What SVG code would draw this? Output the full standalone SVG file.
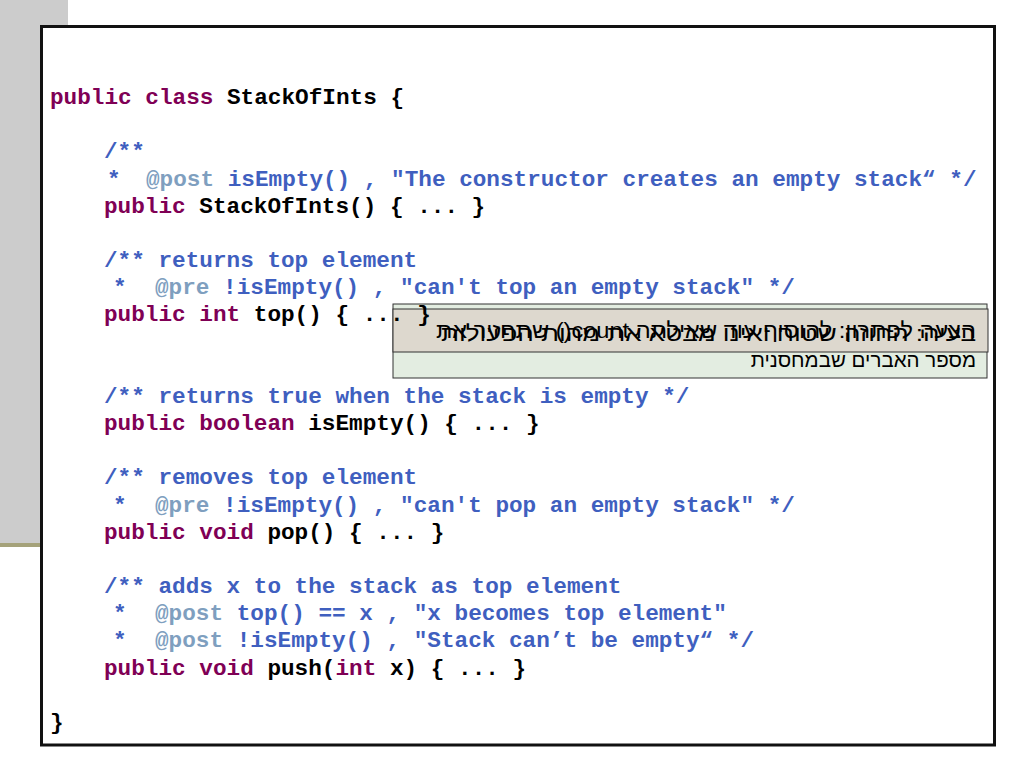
<svg xmlns="http://www.w3.org/2000/svg" width="1024" height="768" viewBox="0 0 1024 768">
<style>
.code{font-family:"Liberation Mono","Courier New",monospace;font-weight:bold;font-size:22.7px}
.kw{fill:#7F0055}
.id{fill:#000000}
.cm{fill:#3F5FBF}
.tag{fill:#7F9FBF}
.heb{font-family:"Liberation Sans","DejaVu Sans",sans-serif;font-size:20.5px;fill:#000000}
.big{font-size:22px}
.box{stroke:#333333;stroke-width:1}
</style>
<g id="background">
<rect x="0" y="0" width="68" height="543" fill="#CCCCCC"/>
<rect x="0" y="543" width="68" height="4" fill="#A5A27A"/>
</g>
<g id="frame">
<rect x="41.5" y="26.5" width="953" height="718.5" fill="#FFFFFF" stroke="#111111" stroke-width="3"/>
</g>
<g id="callout-solution">
<rect class="box" x="393" y="304" width="594" height="74" fill="#E3EDE1"/>
</g>
<g id="callout-problem">
<rect class="box" x="393" y="309" width="595" height="43" fill="#DDD8CE"/>
</g>
<g id="callout-texts">
<text class="heb big" x="976" y="338" direction="rtl" unicode-bidi="embed" text-anchor="start" textLength="540" lengthAdjust="spacingAndGlyphs">הצעה לפתרון: להוסיף עוד שאילתה count() שתחזיר את</text>
<text class="heb" x="976" y="367" direction="rtl" unicode-bidi="embed" text-anchor="start">מספר האברים שבמחסנית</text>
<text class="heb big" x="976" y="341" direction="rtl" unicode-bidi="embed" text-anchor="start" textLength="535" lengthAdjust="spacingAndGlyphs">בעיה: החוזה שטוח ואינו מבטא את מהות הפעולות</text>
</g>
<g id="code" class="code" xml:space="preserve">
<text x="50" y="104"><tspan class="kw">public class</tspan><tspan class="id"> StackOfInts {</tspan></text>
<text x="104" y="158.3" class="cm">/**</text>
<text y="185.5"><tspan class="cm" x="107">*</tspan><tspan class="tag" x="146">@post</tspan><tspan class="cm"> isEmpty() , "The constructor creates an empty stack“ */</tspan></text>
<text x="104" y="212.7"><tspan class="kw">public</tspan><tspan class="id"> StackOfInts() { ... }</tspan></text>
<text x="104" y="267" class="cm">/** returns top element</text>
<text y="294.2"><tspan class="cm" x="113">*</tspan><tspan class="tag" x="155">@pre</tspan><tspan class="cm"> !isEmpty() , "can't top an empty stack" */</tspan></text>
<text x="104" y="321.4"><tspan class="kw">public int</tspan><tspan class="id"> top() { ... }</tspan></text>
<text x="104" y="402.9" class="cm">/** returns true when the stack is empty */</text>
<text x="104" y="430"><tspan class="kw">public boolean</tspan><tspan class="id"> isEmpty() { ... }</tspan></text>
<text x="104" y="484.4" class="cm">/** removes top element</text>
<text y="511.6"><tspan class="cm" x="113">*</tspan><tspan class="tag" x="155">@pre</tspan><tspan class="cm"> !isEmpty() , "can't pop an empty stack" */</tspan></text>
<text x="104" y="538.7"><tspan class="kw">public void</tspan><tspan class="id"> pop() { ... }</tspan></text>
<text x="104" y="593" class="cm">/** adds x to the stack as top element</text>
<text y="620.2"><tspan class="cm" x="113">*</tspan><tspan class="tag" x="155">@post</tspan><tspan class="cm"> top() == x , "x becomes top element"</tspan></text>
<text y="647.4"><tspan class="cm" x="113">*</tspan><tspan class="tag" x="155">@post</tspan><tspan class="cm"> !isEmpty() , "Stack can’t be empty“ */</tspan></text>
<text x="104" y="674.6"><tspan class="kw">public void</tspan><tspan class="id"> push(</tspan><tspan class="kw">int</tspan><tspan class="id"> x) { ... }</tspan></text>
<text x="50" y="729" class="id">}</text>
</g>
</svg>
